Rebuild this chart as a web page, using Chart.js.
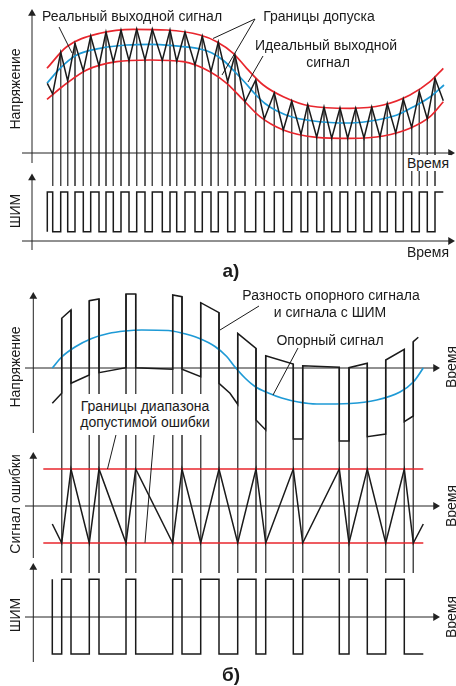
<!DOCTYPE html>
<html><head><meta charset="utf-8">
<script src="https://cdn.jsdelivr.net/npm/chart.js@4.4.1/dist/chart.umd.min.js"></script>
<style>
html,body{margin:0;padding:0;background:#fff;}
#wrap{position:relative;width:456px;height:686px;overflow:hidden;}
canvas{position:absolute;left:0;top:0;}
.lb{position:absolute;white-space:nowrap;font-family:'Liberation Sans',Arial,sans-serif;font-size:14px;color:#1a1a1a;line-height:1;transform:translate(-50%,-50%);z-index:2;}
.rot{transform:translate(-50%,-50%) rotate(-90deg);}
.bold{font-weight:bold;font-size:19px;}
.bg{background:#fff;padding:1px 2px;}
.box{position:absolute;background:#fff;z-index:1;}
</style></head>
<body><div id="wrap"><canvas id="c" width="456" height="686"></canvas>
<div class="lb" style="left:132px;top:16px">Реальный выходной сигнал</div>
<div class="lb" style="left:319px;top:16px">Границы допуска</div>
<div class="lb" style="left:326px;top:45px">Идеальный выходной</div>
<div class="lb" style="left:328px;top:62px">сигнал</div>
<div class="lb bg" style="left:428px;top:163px">Время</div>
<div class="lb rot" style="left:15px;top:89px">Напряжение</div>
<div class="lb rot" style="left:15px;top:211px">ШИМ</div>
<div class="lb" style="left:428px;top:252px">Время</div>
<div class="lb bold" style="left:231px;top:270px">а)</div>
<div class="lb" style="left:331px;top:295px">Разность опорного сигнала</div>
<div class="lb" style="left:330px;top:312px">и сигнала с ШИМ</div>
<div class="lb" style="left:330px;top:340px">Опорный сигнал</div>
<div class="lb rot" style="left:15px;top:367px">Напряжение</div>
<div class="lb rot" style="left:451px;top:367px">Время</div>
<div class="box" style="left:78px;top:394px;width:134px;height:41px"></div>
<div class="lb" style="left:145px;top:406px">Границы диапазона</div>
<div class="lb" style="left:145px;top:422px">допустимой ошибки</div>
<div class="lb rot" style="left:15px;top:504px">Сигнал ошибки</div>
<div class="lb rot" style="left:451px;top:506px">Время</div>
<div class="lb rot" style="left:15px;top:615px">ШИМ</div>
<div class="lb rot" style="left:451px;top:617px">Время</div>
<div class="lb bold" style="left:231px;top:674px">б)</div>
</div>
<script>
// ===== Panel а) : time t (0 at the vertical axis), voltage v (0 on the time axis)
const aIdealT = [15, 28, 44.7, 68, 94.7, 118, 141.3, 168, 180, 192, 203, 213, 223, 233, 245, 260, 278, 298, 318, 345, 365, 381, 398, 412];
const aIdealV = [69.7, 84.7, 98, 104.7, 108, 108.7, 107.3, 104, 100, 92, 81, 70.5, 59, 49.5, 42, 36, 32.5, 30.5, 30, 33, 38, 46, 56, 68];
const aUpperT = [15, 34.7, 68, 101.3, 134.7, 168, 184.7, 201.3, 214.7, 231.3, 251.3, 278, 318, 351.3, 378, 398, 411.3];
const aUpperV = [84.7, 106.3, 119.7, 123.7, 123, 118, 111.3, 99.7, 84.7, 68, 56.3, 47, 44.7, 48, 58, 71.3, 84.7];
const aLowerT = [15, 34.7, 54.7, 84.7, 118, 151.3, 178, 194.7, 211.3, 228, 251.3, 284.7, 318, 351.3, 378, 398, 411.3];
const aLowerV = [53.7, 69.7, 83, 91.3, 93, 91.3, 81.3, 69.7, 53, 36.3, 23, 15.7, 14.7, 17, 24.7, 36.3, 51.3];
// real output (zig-zag between tolerance limits): start, vertices, end
const aWaveT = [15.3, 20.7, 28.7, 35.7, 43, 51.3, 58.7, 67, 74, 81.3, 89, 97, 104.7, 113, 120.3, 130.3, 138, 144.7, 153, 163, 170.3, 179, 186.3, 195.7, 203, 213, 223.7, 232.3, 242.3, 251.3, 259.7, 269, 275.7, 284.7, 292, 299.7, 308, 315.7, 323.7, 332, 339.7, 348, 355.3, 363.7, 371.3, 379.7, 387.3, 395.3, 403, 411.3];
const aWaveV = [69.7, 59, 100.7, 72, 109.7, 82, 117, 87, 121, 91, 123, 92.3, 124, 93, 124, 92.5, 123, 91.5, 121, 88, 117, 81.3, 111, 71.3, 98, 51, 73, 34, 60, 23, 52, 18.5, 48.5, 15.7, 46, 14.7, 45, 14.7, 45, 15, 46, 16, 49.5, 20, 54, 25.5, 61.5, 34, 74.7, 52.3];
const aGuideBottom = -33;
const aPwmHigh = 49, aPwmLow = 9.3;

// ===== Panel б)
const bRefT = [20.3, 29.7, 43, 59.7, 76.3, 93, 109.7, 136.3, 149.7, 166.3, 183, 194.7, 203, 213, 223, 236.3, 249.7, 266.3, 284.7, 318, 344.7, 368, 381.3, 391.3];
const bRefV = [0, 11, 21, 29.5, 34.5, 37, 38, 37.5, 35, 30, 21.5, 11.5, 1, -10, -18.5, -25, -30, -34, -36, -35.5, -32, -24, -14, 0];
const bDiffT = [20.3, 29.7, 29.7, 39, 39, 57.3, 57.3, 67, 67, 94, 94, 103.7, 103.7, 140.7, 140.7, 150, 150, 168.7, 168.7, 187, 187, 198, 205.7, 205.7, 224, 224, 233.7, 233.7, 261.3, 261.3, 270.7, 270.7, 307.3, 307.3, 317, 317, 335.3, 335.3, 353.7, 353.7, 372.3, 372.3, 381.3, 381.3, 386.3];
const bDiffV = [-35.3, -25.3, 49.7, 58, -15.3, -7, 67.3, 69, -4.7, 0.3, 74, 74, 0.3, -1.3, 73, 71.3, -1.3, -8.7, 65.3, 55.3, -15.3, -25.3, -36.3, 34.7, 19.7, -52, -62, 12.3, 4, -71, -71, 2.3, 0.7, -73, -73, 0.3, 4.7, -68.7, -66, 8, 18.7, -53.7, -48, 26.3, 30.7];
const bSwitchT = [29.7, 39, 57.3, 67, 94, 103.7, 140.7, 150, 168.7, 187, 205.7, 224, 233.7, 261.3, 270.7, 307.3, 317, 335.3, 353.7, 372.3, 381.3];
const bErrT = [20.3, 29.7, 39, 57.3, 67, 94, 103.7, 140.7, 150, 168.7, 187, 205.7, 224, 233.7, 261.3, 270.7, 307.3, 317, 335.3, 353.7, 372.3, 381.3, 391.3];
const bErrV = [-18, -37, 37, -37, 37, -37, 37, -37, 37, -37, 37, -37, 37, -37, 37, -37, 37, -37, 37, -37, 37, -37, -18];
const bErrLimit = 37, bLimitStart = 11.3, bLimitEnd = 391.3;
const bPwmStart = 20.3, bPwmEnd = 391.3, bPwmHigh = 37.7, bPwmLow = -37;
const bGuideBottom = -205;

// ===== helpers
const pts = (T, V) => T.map((t, i) => ({x: t, y: V[i]}));
function ds(data, axis, color, width, order, extra) {
  return Object.assign({data, yAxisID: axis, xAxisID: 'x', showLine: true, borderColor: color,
    backgroundColor: color, borderWidth: width, pointRadius: 0, pointHoverRadius: 0, tension: 0,
    fill: false, order, spanGaps: false}, extra || {});
}
function segs(list) { const d = []; list.forEach(s => { d.push({x: s[0], y: s[1]}, {x: s[2], y: s[3]}, {x: s[2], y: null}); }); return d; }
function arrowAxis(t0, v0, t1, v1, axis, rot) {
  return ds([{x: t0, y: v0}, {x: t1, y: v1}], axis, '#222', 1, 20, {
    pointRadius: [0, 4.5], pointStyle: 'triangle', pointRotation: [0, rot],
    pointBackgroundColor: '#222', pointBorderColor: '#222', pointBorderWidth: 0});
}

// guide lines а)
const guideA = [];
for (let i = 1; i < aWaveT.length - 1; i++) guideA.push({x: aWaveT[i], y: aWaveV[i]}, {x: aWaveT[i], y: aGuideBottom}, {x: aWaveT[i], y: null});
// PWM а): rises at troughs, falls at peaks
const pwmA = [{x: aWaveT[0], y: aPwmLow}];
for (let i = 1; i < aWaveT.length - 1; i++) pwmA.push({x: aWaveT[i], y: aWaveV[i] < aWaveV[i - 1] ? aPwmHigh : aPwmLow});
pwmA.push({x: aWaveT[aWaveT.length - 1], y: aPwmHigh});

// guide lines б)
const guideB = [];
bSwitchT.forEach(s => {
  let top = -Infinity;
  bDiffT.forEach((t, i) => { if (t === s) top = Math.max(top, bDiffV[i]); });
  guideB.push({x: s, y: top}, {x: s, y: bGuideBottom}, {x: s, y: null});
});
// PWM б): toggles at each switching instant
const pwmB = [{x: bPwmStart, y: bPwmHigh}];
bSwitchT.forEach((s, i) => pwmB.push({x: s, y: i % 2 === 0 ? bPwmLow : bPwmHigh}));
pwmB.push({x: bPwmEnd, y: pwmB[pwmB.length - 1].y});

const RED = '#e8262d', BLUE = '#1e9ad6', BLK = '#1a1a1a', GUIDE = '#4a4a4a';

const datasets = [
  // panel а) upper
  ds(pts(aWaveT, aWaveV), 'yA', BLK, 1.5, 1),
  ds(pts(aUpperT, aUpperV), 'yA', RED, 1.7, 3, {cubicInterpolationMode: 'monotone'}),
  ds(pts(aLowerT, aLowerV), 'yA', RED, 1.7, 3, {cubicInterpolationMode: 'monotone'}),
  ds(pts(aIdealT, aIdealV), 'yA', BLUE, 1.7, 4, {cubicInterpolationMode: 'monotone'}),
  ds(guideA, 'yA', GUIDE, 1, 30),
  ds(segs([[27, 126, 40, 100], [223, 134, 181, 114.5], [223, 134, 190, 78], [231, 97, 216, 71]]), 'yA', BLK, 1, 2),
  arrowAxis(0, -10, 0, 139.5, 'yA', 0),
  arrowAxis(-10, 0, 418.5, 0, 'yA', 90),
  // panel а) PWM
  ds(pwmA, 'yAP', BLK, 1.5, 1, {stepped: 'after'}),
  arrowAxis(0, -9, 0, 63, 'yAP', 0),
  arrowAxis(-10, 0, 418.5, 0, 'yAP', 90),
  // panel б) upper
  ds(pts(bDiffT, bDiffV), 'yB1', BLK, 1.5, 1),
  ds(pts(bRefT, bRefV), 'yB1', BLUE, 1.7, 4, {cubicInterpolationMode: 'monotone'}),
  ds(guideB, 'yB1', GUIDE, 1, 30),
  ds(segs([[227, 62, 188, 38], [266, 20, 241, -27]]), 'yB1', BLK, 1, 2),
  arrowAxis(1.3, -65, 1.3, 71.5, 'yB1', 0),
  arrowAxis(-7, 0, 403.5, 0, 'yB1', 90),
  // panel б) error
  ds(pts(bErrT, bErrV), 'yB2', BLK, 1.5, 1),
  ds([{x: bLimitStart, y: bErrLimit}, {x: bLimitEnd, y: bErrLimit}], 'yB2', RED, 1.7, 3),
  ds([{x: bLimitStart, y: -bErrLimit}, {x: bLimitEnd, y: -bErrLimit}], 'yB2', RED, 1.7, 3),
  ds(segs([[84.7, 74, 75.5, 37], [122.3, 74, 113, -36.7]]), 'yB2', BLK, 1, 2),
  arrowAxis(1.3, -52, 1.3, 49.5, 'yB2', 0),
  arrowAxis(-7, 0, 403.5, 0, 'yB2', 90),
  // panel б) PWM
  ds(pwmB, 'yB3', BLK, 1.5, 1, {stepped: 'after'}),
  arrowAxis(1.3, -45, 1.3, 49.5, 'yB3', 0),
  arrowAxis(-7, 0, 403.5, 0, 'yB3', 90)
];

const hid = (min, max) => ({type: 'linear', min, max, display: false});
new Chart(document.getElementById('c'), {
  type: 'scatter',
  data: {datasets},
  options: {
    responsive: false, animation: false, devicePixelRatio: 1, events: [],
    layout: {padding: 0, autoPadding: false},
    plugins: {legend: {display: false}, tooltip: {enabled: false}},
    scales: {
      x: hid(-32, 424),
      yA: hid(-533, 153),
      yAP: hid(-445, 241),
      yB1: hid(-318, 368),
      yB2: hid(-180, 506),
      yB3: hid(-69, 617)
    }
  }
});
</script>
</body></html>
